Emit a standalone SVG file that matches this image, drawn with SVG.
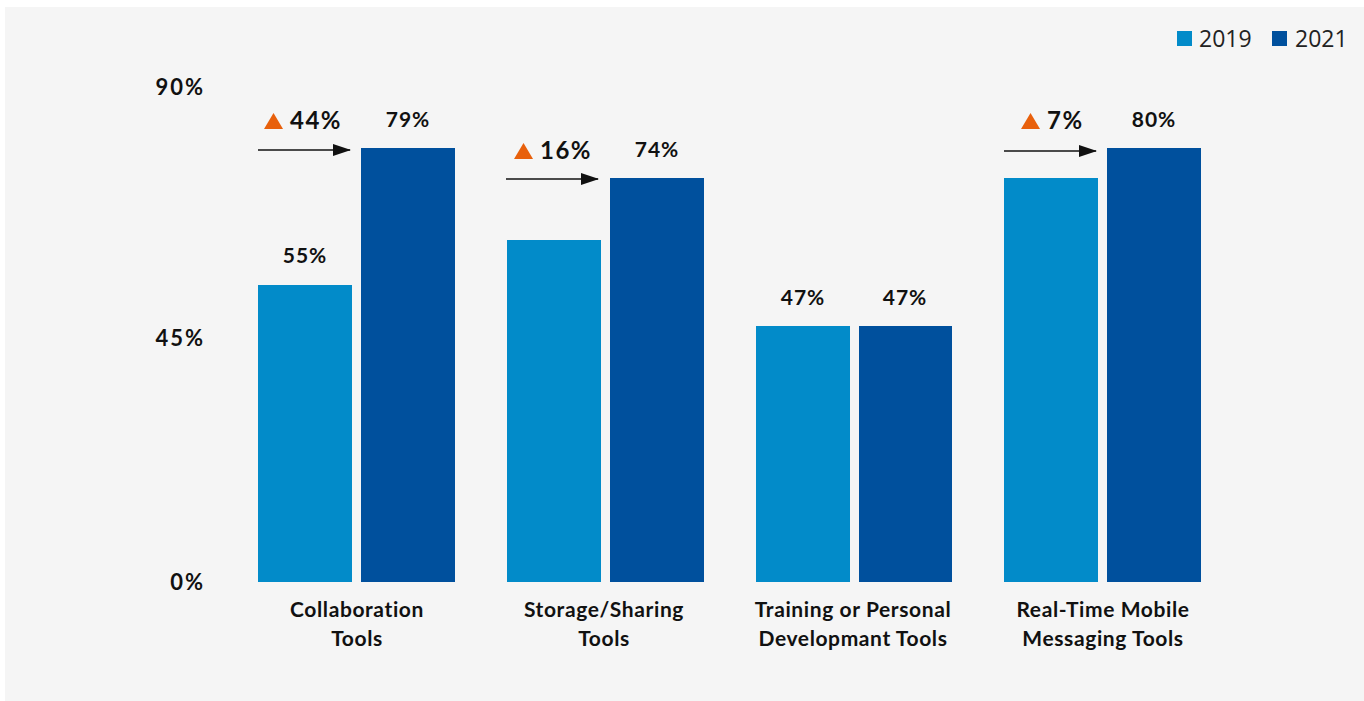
<svg xmlns="http://www.w3.org/2000/svg" width="1364" height="701" viewBox="0 0 1364 701">
<style>
.t{font-family:Lato,"Open Sans",sans-serif;font-weight:bold;fill:#111;}
.v{font-size:21px;letter-spacing:1px;text-anchor:middle;}
.g{font-size:24px;letter-spacing:1.5px;}
.ax{font-size:22px;letter-spacing:2px;text-anchor:end;}
.cat{font-size:21px;letter-spacing:0.6px;text-anchor:middle;}
.lg{font-family:"Open Sans",sans-serif;font-size:23px;fill:#222;}
.b19{fill:#028bc9;}
.b21{fill:#00509d;}
.tri{fill:#e8600c;}
.arr{stroke:#111;stroke-width:1.3;fill:none;}
</style>
<defs>
<marker id="ah" markerWidth="18" markerHeight="12" refX="17" refY="6" orient="auto" markerUnits="userSpaceOnUse">
<path d="M0,0 L18,6 L0,12 Z" fill="#111"/>
</marker>
</defs>
<rect x="0" y="0" width="1364" height="701" fill="#ffffff"/>
<rect x="5" y="7" width="1359" height="694" fill="#f5f5f5"/>
<g id="legend">
<rect x="1177" y="31" width="15" height="15" class="b19"/>
<text x="1199" y="47" class="lg">2019</text>
<rect x="1272" y="31" width="15" height="15" class="b21"/>
<text x="1295" y="47" class="lg">2021</text>
</g>
<g id="axis">
<text x="205" y="95" class="t ax">90%</text>
<text x="205" y="346" class="t ax">45%</text>
<text x="205" y="590" class="t ax">0%</text>
</g>
<g id="collaboration">
<rect x="258" y="285" width="94" height="297" class="b19"/>
<rect x="361" y="148" width="94" height="434" class="b21"/>
<text x="305" y="263" class="t v">55%</text>
<text x="408" y="127" class="t v">79%</text>
<polygon points="264,129 273.5,113 283,129" class="tri"/>
<text x="290" y="129" class="t g">44%</text>
<text x="357" y="617" class="t cat">Collaboration</text>
<text x="357" y="646" class="t cat">Tools</text>
</g>
<g id="storage">
<rect x="507" y="240" width="94" height="342" class="b19"/>
<rect x="610" y="178" width="94" height="404" class="b21"/>
<text x="657" y="157" class="t v">74%</text>
<polygon points="514,159 523.5,143 533,159" class="tri"/>
<text x="540" y="159" class="t g">16%</text>
<text x="604" y="617" class="t cat">Storage/Sharing</text>
<text x="604" y="646" class="t cat">Tools</text>
</g>
<g id="training">
<rect x="756" y="326" width="94" height="256" class="b19"/>
<rect x="859" y="326" width="93" height="256" class="b21"/>
<text x="803" y="305" class="t v">47%</text>
<text x="905" y="305" class="t v">47%</text>
<text x="853" y="617" class="t cat">Training or Personal</text>
<text x="853" y="646" class="t cat">Developmant Tools</text>
</g>
<g id="realtime">
<rect x="1004" y="178" width="94" height="404" class="b19"/>
<rect x="1107" y="148" width="94" height="434" class="b21"/>
<text x="1154" y="127" class="t v">80%</text>
<polygon points="1021,129 1030.5,113 1040,129" class="tri"/>
<text x="1047" y="129" class="t g">7%</text>
<text x="1103" y="617" class="t cat">Real-Time Mobile</text>
<text x="1103" y="646" class="t cat">Messaging Tools</text>
</g>
<g id="connectors">
<line x1="258" y1="150" x2="350" y2="150" class="arr" marker-end="url(#ah)"/>
<line x1="506" y1="179" x2="598" y2="179" class="arr" marker-end="url(#ah)"/>
<line x1="1004" y1="151" x2="1096" y2="151" class="arr" marker-end="url(#ah)"/>
</g>
</svg>
